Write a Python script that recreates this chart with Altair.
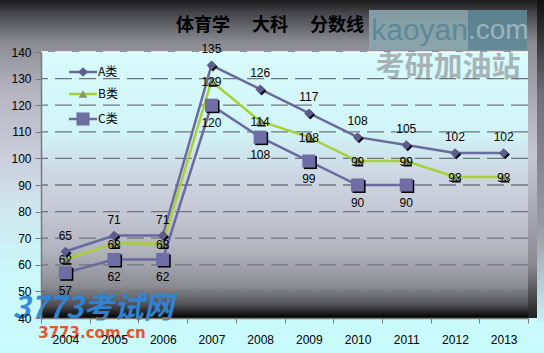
import altair as alt
import pandas as pd

# ---------------- data ----------------
years = ["2004", "2005", "2006", "2007", "2008", "2009", "2010", "2011", "2012", "2013"]
a_vals = [65, 71, 71, 135, 126, 117, 108, 105, 102, 102]
b_vals = [62, 68, 68, 129, 114, 108, 99, 99, 93, 93]
c_vals = [57, 62, 62, 120, 108, 99, 90, 90]
series_names = ["A类", "B类", "C类"]
grid_values = [50, 60, 70, 80, 90, 100, 110, 120, 130]
y_ticks = [40, 50, 60, 70, 80, 90, 100, 110, 120, 130, 140]
title_text = "体育学　 大科　 分数线"

rows = []
for name, vals in zip(series_names, [a_vals, b_vals, c_vals]):
    for yr, v in zip(years, vals):
        rows.append({"year": yr, "value": v, "series": name})
df = pd.DataFrame(rows)
one = pd.DataFrame({"k": [0]})

W, H = 487, 266
PAD = {"left": 41, "top": 52, "right": 16, "bottom": 35}
FONT = "Liberation Sans"

xscale = alt.Scale(domain=years, paddingInner=0, paddingOuter=0)
yscale = alt.Scale(domain=[40, 140], nice=False, zero=False)
xaxis = alt.Axis(title=None, tickBand="extent", labelAngle=0, labelFont=FONT, labelFontSize=12,
                 labelColor="black", labelPadding=11, tickSize=5, tickColor="#7a7a7a",
                 domainColor="#7a7a7a", domainWidth=1.5, grid=False, zindex=1)
yaxis = alt.Axis(title=None, values=y_ticks, labelFont=FONT, labelFontSize=12, labelColor="black",
                 labelPadding=4, tickSize=6, tickColor="#7a7a7a", domainColor="#7a7a7a",
                 domainWidth=1.5, grid=False, zindex=1)
X = alt.X("year:O", scale=xscale, axis=xaxis)
Y = alt.Y("value:Q", scale=yscale, axis=yaxis)


def grad(stops):
    return alt.Gradient(gradient="linear", x1=0, x2=0, y1=0, y2=1,
                        stops=[alt.GradientStop(offset=o, color=c) for o, c in stops])


layers = []
# whole-chart background
layers.append(alt.Chart(one).mark_rect(color=grad([
    (0.0, "#1c1c1c"), (0.04, "#48484e"), (0.12, "#8a8a92"), (0.25, "#b4b4c0"),
    (0.42, "#c8cad8"), (0.6, "#d0e8f0"), (0.75, "#cbf6f9"), (1.0, "#c8fafc")])).encode(
    x=alt.value(-41), x2=alt.value(503), y=alt.value(-52), y2=alt.value(301)))
# right wall strip
layers.append(alt.Chart(one).mark_rect(color=grad([
    (0.0, "#8e8e96"), (0.4, "#c8c8d0"), (0.8, "#8a8a92"), (1.0, "#202020")])).encode(
    x=alt.value(W), x2=alt.value(W + 9), y=alt.value(-4), y2=alt.value(H)))
layers.append(alt.Chart(one).mark_rect(color=grad([
    (0.0, "#101010"), (0.3, "#707078"), (0.7, "#9a9aa2"), (1.0, "#c8f0f4")])).encode(
    x=alt.value(W + 9), x2=alt.value(503), y=alt.value(-52), y2=alt.value(H + 4)))
# plot area background
layers.append(alt.Chart(one).mark_rect(color=grad([
    (0.0, "#d8fcfd"), (0.3, "#d0f4f8"), (0.45, "#cdd8e4"), (0.6, "#c4c8d4"),
    (0.75, "#b0b2bc"), (0.88, "#8c8c94"), (0.95, "#505054"), (1.0, "#000000")])).encode(
    x=alt.value(0), x2=alt.value(W), y=alt.value(0), y2=alt.value(H)))

# watermarks (top right)
layers.append(alt.Chart(one).mark_rect(color="#8aa6ae", opacity=0.9).encode(
    x=alt.value(328), x2=alt.value(427), y=alt.value(-42), y2=alt.value(-2)))
layers.append(alt.Chart(one).mark_rect(color="#5e8898", opacity=0.9).encode(
    x=alt.value(427), x2=alt.value(486), y=alt.value(-42), y2=alt.value(-2)))
layers.append(alt.Chart(one).mark_text(text="kaoyan", font=FONT, fontSize=30, color="#5e8898",
                                       align="right", baseline="middle").encode(
    x=alt.value(427), y=alt.value(-21)))
layers.append(alt.Chart(one).mark_text(text=".com", font=FONT, fontSize=28, color="#9ab4bc",
                                       align="left", baseline="middle").encode(
    x=alt.value(427), y=alt.value(-21)))
layers.append(alt.Chart(one).mark_text(text="考研加油站", font="Noto Sans CJK SC", fontWeight="bold",
                                       fontSize=29, color="#9ea8ac", opacity=0.85, align="center",
                                       baseline="middle").encode(
    x=alt.value(407), y=alt.value(16)))

# grid lines
layers.append(alt.Chart(pd.DataFrame({"value": grid_values})).mark_rule(
    strokeDash=[17, 7], color="#6f757c", strokeWidth=1.3).encode(y=Y))
layers.append(alt.Chart(pd.DataFrame({"value": [140]})).mark_rule(
    strokeDash=[17, 7], color="#ffffff", strokeWidth=1.5).encode(y=Y))

styles = {
    "A类": dict(line="#6a6a9e", fill="#5c5c8e", shape="diamond", size=90, dy=-16),
    "B类": dict(line="#a8d038", fill="#8c9470", shape="triangle-up", size=80, dy=1),
    "C类": dict(line="#6a6a9e", fill="#6e6ea4", shape="square", size=170, dy=18),
}

base = alt.Chart(df)
for name in series_names:
    s = styles[name]
    sub = base.transform_filter(alt.datum.series == name)
    layers.append(sub.mark_line(color=s["line"], strokeWidth=2.5).encode(x=X, y=Y))
for name in series_names:
    s = styles[name]
    sub = base.transform_filter(alt.datum.series == name)
    layers.append(sub.mark_point(shape=s["shape"], size=s["size"], filled=True, opacity=1,
                                 color="#000000", xOffset=1.5, yOffset=1.5).encode(x=X, y=Y))
    layers.append(sub.mark_point(shape=s["shape"], size=s["size"], filled=True, opacity=1,
                                 color=s["fill"]).encode(x=X, y=Y))
for name in series_names:
    s = styles[name]
    sub = base.transform_filter(alt.datum.series == name)
    layers.append(sub.mark_text(font=FONT, fontSize=12, color="black", dy=s["dy"]).encode(
        x=X, y=Y, text="value:Q"))

# 3773 watermark (bottom left)
layers.append(alt.Chart(one).mark_text(text="3773考试网", font="Noto Sans CJK SC", fontWeight="bold",
                                       fontStyle="italic", fontSize=30, color="#2f86d8", opacity=0.95,
                                       align="center", baseline="middle").encode(
    x=alt.value(52), y=alt.value(257)))
layers.append(alt.Chart(one).mark_text(text="3773.com.cn", font="DejaVu Sans", fontWeight="bold",
                                       fontSize=15, color="#e8542c", align="center", baseline="middle").encode(
    x=alt.value(51), y=alt.value(281)))

# legend
legend_y = [20, 42, 67]
for name, ly in zip(series_names, legend_y):
    s = styles[name]
    layers.append(alt.Chart(one).mark_rule(color=s["line"], strokeWidth=2.5).encode(
        x=alt.value(28), x2=alt.value(56), y=alt.value(ly)))
    layers.append(alt.Chart(one).mark_point(shape=s["shape"], size=s["size"], filled=True, opacity=1,
                                            color=s["fill"]).encode(x=alt.value(42), y=alt.value(ly)))
    layers.append(alt.Chart(one).mark_text(text=name, font="Noto Sans CJK SC", fontSize=12, color="black",
                                           align="left", baseline="middle").encode(
        x=alt.value(57), y=alt.value(ly)))

# title
layers.append(alt.Chart(one).mark_text(text=title_text, font="Noto Sans CJK SC", fontWeight="bold",
                                       fontSize=18, color="black", align="center", baseline="middle").encode(
    x=alt.value(229), y=alt.value(-26)))

chart = alt.layer(*layers).properties(
    width=W, height=H, padding=PAD, autosize=alt.AutoSizeParams(type="none"),
    background="#c8fafc",
).configure_view(stroke=None)

chart.save("out.html", embed_options={"renderer": "svg", "actions": False})
